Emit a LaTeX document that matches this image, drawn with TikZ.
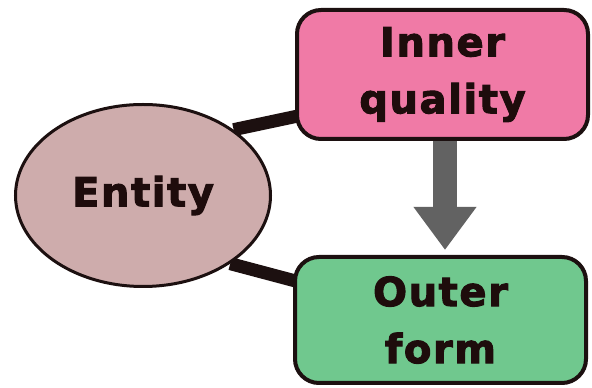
\documentclass[tikz,border=0pt]{standalone}
\usepackage{fontspec}
\setmainfont{DejaVu Sans}[BoldFeatures={FakeBold=2.5,LetterSpace=4}]
\usetikzlibrary{arrows.meta,backgrounds,shapes.geometric}
\definecolor{pinkfill}{RGB}{240,122,166}
\definecolor{greenfill}{RGB}{112,200,142}
\definecolor{entfill}{RGB}{206,172,172}
\definecolor{edgedark}{RGB}{28,16,16}
\definecolor{arrowgray}{RGB}{98,98,98}
\definecolor{txtdark}{RGB}{30,12,12}
\begin{document}
\begin{tikzpicture}[x=1pt,y=1pt,
  lbl/.style={font=\fontsize{40}{57}\selectfont\bfseries, text=txtdark, align=center},
  boxnode/.style={lbl, draw=edgedark, line width=4pt, rounded corners=24pt, inner sep=0pt,
     minimum width=291pt},
  entnode/.style={lbl, ellipse, draw=edgedark, line width=3pt, fill=entfill, inner sep=0pt,
     minimum width=255pt, minimum height=182pt},
  link/.style={draw=edgedark, line width=13pt},
  flow/.style={draw=arrowgray, line width=24pt, -{Triangle[width=60pt,length=43pt]}}
]
\useasboundingbox (0,0) rectangle (592,388);
\node[entnode] (ent) at (143,192.5) {Entity};
\node[boxnode, fill=pinkfill, minimum height=129pt] (inner) at (442.5,313.5) {Inner\\quality};
\node[boxnode, fill=greenfill, minimum height=126pt] (outer) at (440.5,68) {Outer\\form};
\coordinate (a1) at (445,247);
\coordinate (a2) at (445,138);
\coordinate (c1) at ([yshift=-40pt]inner.west);
\coordinate (c2) at ([yshift=37pt]outer.west);
\begin{pgfonlayer}{background}
\draw[link] (ent.36) -- ([xshift=10pt]c1);
\draw[link] (ent.-38) -- ([xshift=10pt]c2);
\end{pgfonlayer}
\draw[flow] (a1) -- (a2);
\end{tikzpicture}
\end{document}
